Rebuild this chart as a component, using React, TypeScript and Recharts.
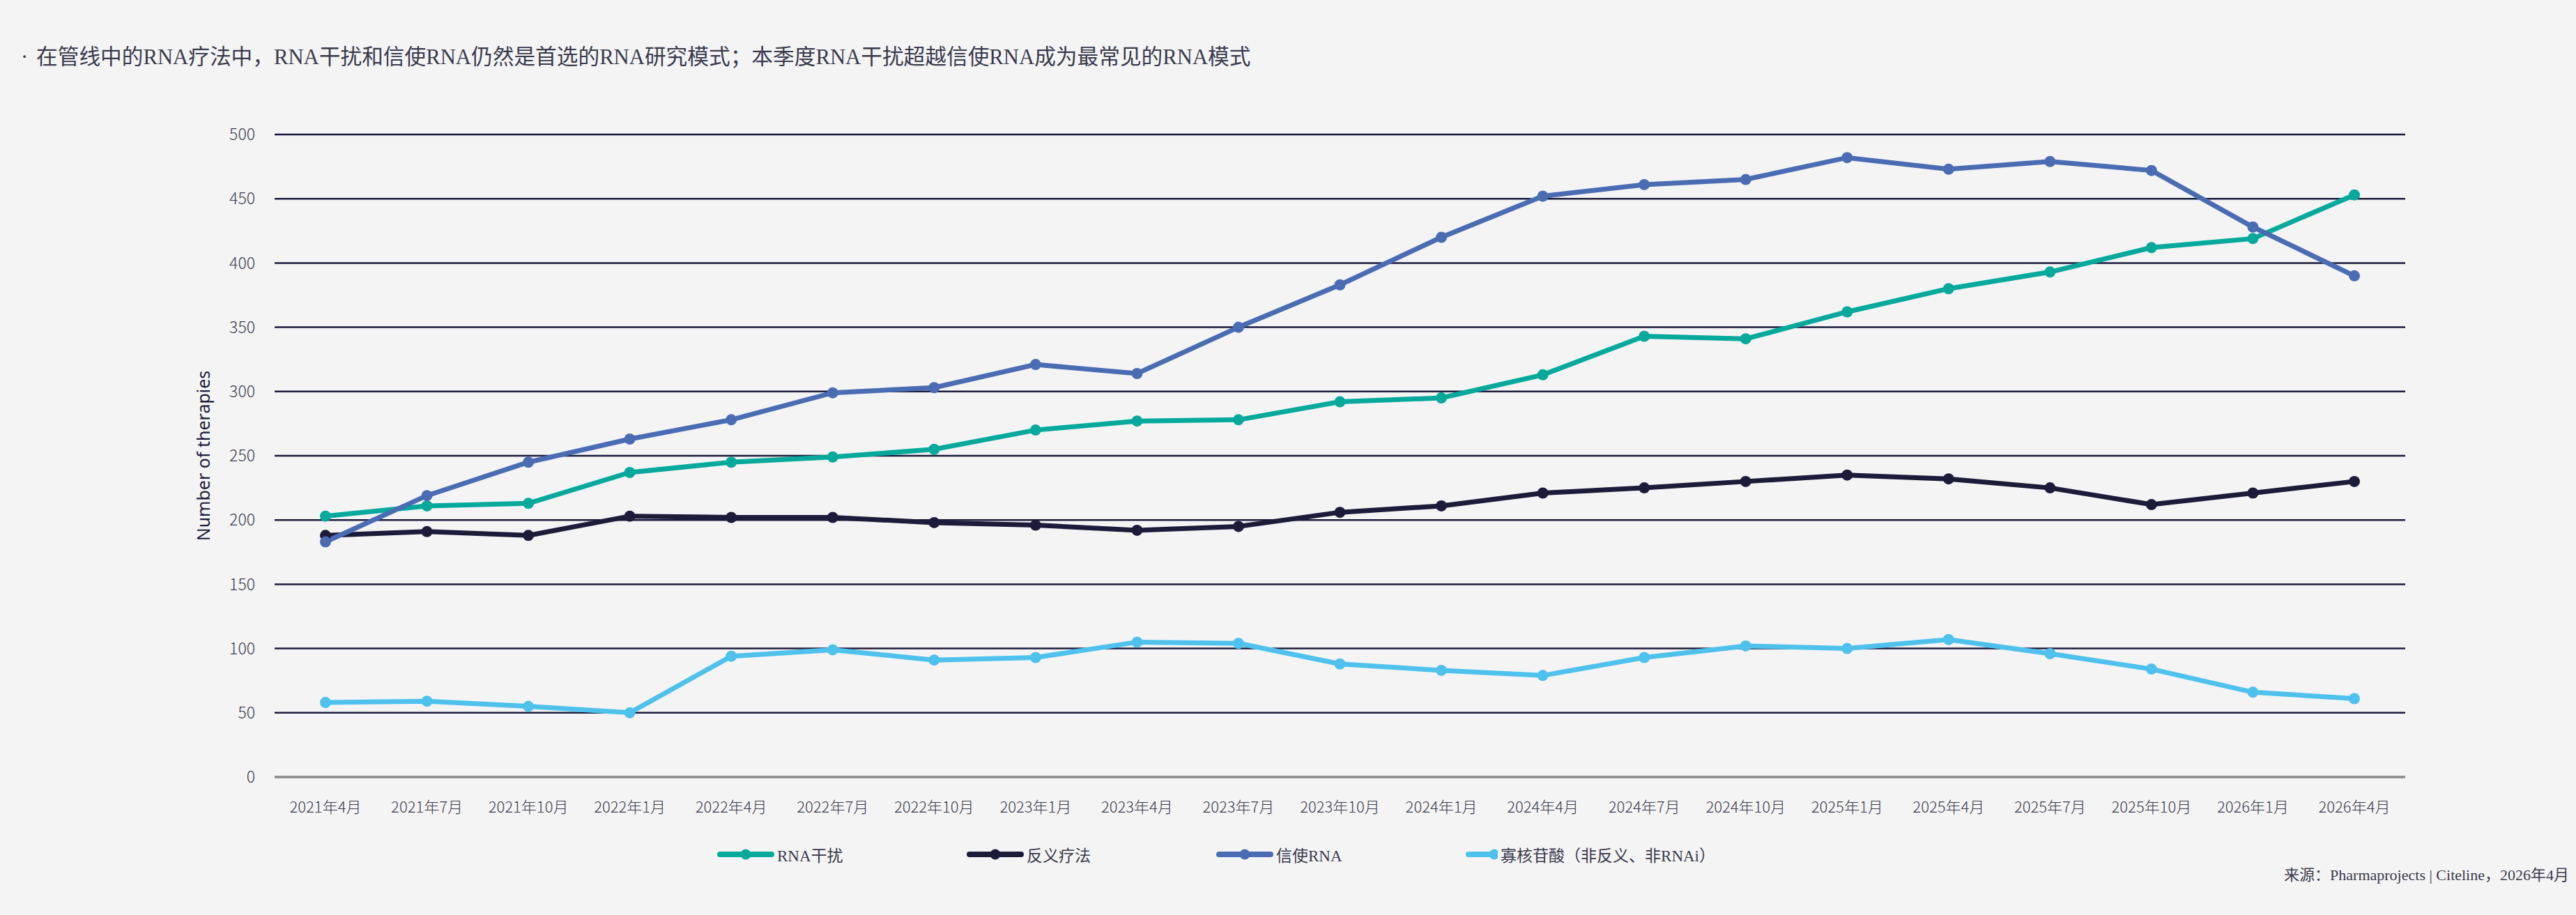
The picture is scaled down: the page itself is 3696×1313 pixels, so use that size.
import React from "react";
import { LineChart, Line, XAxis, YAxis, CartesianGrid } from "recharts";

const periods = [
  "2021年4月", "2021年7月", "2021年10月",
  "2022年1月", "2022年4月", "2022年7月", "2022年10月",
  "2023年1月", "2023年4月", "2023年7月", "2023年10月",
  "2024年1月", "2024年4月", "2024年7月", "2024年10月",
  "2025年1月", "2025年4月", "2025年7月", "2025年10月",
  "2026年1月", "2026年4月",
];

const rnai = [203, 211, 213, 237, 245, 249, 255, 270, 277, 278, 292, 295, 313, 343, 341, 362, 380, 393, 412, 419, 453];
const antisense = [188, 191, 188, 203, 202, 202, 198, 196, 192, 195, 206, 211, 221, 225, 230, 235, 232, 225, 212, 221, 230];
const mrna = [183, 219, 245, 263, 278, 299, 303, 321, 314, 350, 383, 420, 452, 461, 465, 482, 473, 479, 472, 428, 390];
const oligo = [58, 59, 55, 50, 94, 99, 91, 93, 105, 104, 88, 83, 79, 93, 102, 100, 107, 96, 84, 66, 61];

const yTicks = [0, 50, 100, 150, 200, 250, 300, 350, 400, 450, 500];

const series = [
  { key: "rnai", name: "RNA干扰", color: "#06a99c" },
  { key: "antisense", name: "反义疗法", color: "#1d1b3a" },
  { key: "mrna", name: "信使RNA", color: "#4a6cb3" },
  { key: "oligo", name: "寡核苷酸（非反义、非RNAi）", color: "#4fc1ed" },
];

const data = periods.map((period, i) => ({
  period,
  rnai: rnai[i],
  antisense: antisense[i],
  mrna: mrna[i],
  oligo: oligo[i],
}));

const SERIF = "'Liberation Serif', 'Noto Sans CJK SC', serif";
const SANS_CJK = "'Noto Sans CJK SC', 'Noto Sans', sans-serif";
const TEXT = "#3a3a4c";

export default function App() {
  return (
    <div
      style={{
        position: "relative",
        width: 3696,
        height: 1313,
        background: "#f4f4f5",
        overflow: "hidden",
      }}
    >
      <style>{`body{margin:0;}`}</style>

      <div
        style={{
          position: "absolute",
          left: 30,
          top: 64,
          fontFamily: SERIF,
          fontSize: 30.7,
          lineHeight: "36px",
          color: TEXT,
          whiteSpace: "nowrap",
        }}
      >
        <span style={{ position: "absolute", left: 0 }}>·</span>
        <span style={{ position: "absolute", left: 22 }}>
          在管线中的RNA疗法中，RNA干扰和信使RNA仍然是首选的RNA研究模式；本季度RNA干扰超越信使RNA成为最常见的RNA模式
        </span>
      </div>

      <div style={{ position: "absolute", left: 0, top: 0 }}>
        <LineChart
          width={3696}
          height={1313}
          data={data}
          margin={{ top: 193, right: 245, bottom: 138, left: 314 }}
        >
          <CartesianGrid vertical={false} stroke="#1b1a3c" strokeWidth={2.5} />
          <XAxis
            dataKey="period"
            interval={0}
            height={60}
            tickLine={false}
            tickSize={0}
            tickMargin={35}
            padding={{ left: 73, right: 73 }}
            axisLine={{ stroke: "#8a8a8a", strokeWidth: 3 }}
            tick={{ fontSize: 22, fill: TEXT, fontFamily: SANS_CJK, fontWeight: 300 }}
          />
          <YAxis
            width={80}
            domain={[0, 500]}
            ticks={yTicks}
            axisLine={false}
            tickLine={false}
            tickSize={0}
            tickMargin={28}
            tick={{ fontSize: 23, fill: TEXT, fontFamily: SANS_CJK, fontWeight: 300 }}
          />
          {series.map((s) => (
            <Line
              key={s.key}
              type="linear"
              dataKey={s.key}
              name={s.name}
              stroke={s.color}
              strokeWidth={7}
              dot={{ r: 8, fill: s.color, stroke: s.color, strokeWidth: 0 }}
              activeDot={false}
              isAnimationActive={false}
            />
          ))}
        </LineChart>
      </div>

      <div
        style={{
          position: "absolute",
          left: 291,
          top: 654,
          transform: "translate(-50%, -50%) rotate(-90deg)",
          fontFamily: "'Noto Sans', sans-serif",
          fontSize: 25,
          color: "#1c1c3a",
          whiteSpace: "nowrap",
        }}
      >
        Number of therapies
      </div>

      <div
        style={{
          position: "absolute",
          left: 1029,
          top: 1226,
          transform: "translateY(-50%)",
          display: "flex",
          alignItems: "center",
        }}
      >
        {series.map((s) => (
          <div
            key={s.key}
            style={{ width: 358, display: "flex", alignItems: "center", flexShrink: 0 }}
          >
            <svg width={82} height={18} style={{ display: "block" }}>
              <line
                x1={4}
                y1={9}
                x2={78}
                y2={9}
                stroke={s.color}
                strokeWidth={8}
                strokeLinecap="round"
              />
              <circle cx={41} cy={9} r={7.5} fill={s.color} />
            </svg>
            <span
              style={{
                marginLeft: 4,
                fontFamily: SERIF,
                fontSize: 23,
                color: TEXT,
                whiteSpace: "nowrap",
              }}
            >
              {s.name}
            </span>
          </div>
        ))}
      </div>

      <div
        style={{
          position: "absolute",
          right: 10,
          top: 1253,
          transform: "translateY(-50%)",
          fontFamily: SERIF,
          fontSize: 22,
          color: TEXT,
          whiteSpace: "nowrap",
        }}
      >
        来源：Pharmaprojects | Citeline，2026年4月
      </div>
    </div>
  );
}
